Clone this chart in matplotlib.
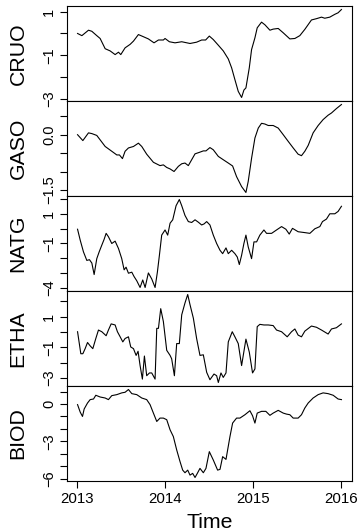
import matplotlib
matplotlib.use("Agg")
import matplotlib.pyplot as plt

plt.rcParams["font.family"] = ["Liberation Sans", "DejaVu Sans"]

# series values (time in decimal years)
cruo_t = [2013.008, 2013.057, 2013.132, 2013.17, 2013.226, 2013.264, 2013.321, 2013.377,
          2013.434, 2013.472, 2013.498, 2013.547, 2013.604, 2013.642, 2013.698, 2013.755,
          2013.811, 2013.875, 2013.925, 2013.981, 2014.0, 2014.049, 2014.113, 2014.189,
          2014.283, 2014.358, 2014.415, 2014.46, 2014.502, 2014.547, 2014.604, 2014.66,
          2014.717, 2014.755, 2014.792, 2014.83, 2014.868, 2014.894, 2014.917, 2014.955,
          2014.981, 2015.019, 2015.045, 2015.094, 2015.132, 2015.189, 2015.226, 2015.283,
          2015.34, 2015.415, 2015.472, 2015.528, 2015.585, 2015.66, 2015.717, 2015.774,
          2015.811, 2015.868, 2015.925, 2015.962, 2016.0]
cruo_v = [0.0, -0.1, 0.15, 0.1, -0.1, -0.23, -0.7, -0.8,
          -0.97, -0.86, -0.97, -0.66, -0.5, -0.35, -0.05, -0.15,
          -0.25, -0.43, -0.3, -0.3, -0.23, -0.38, -0.43, -0.38,
          -0.46, -0.4, -0.3, -0.3, -0.12, -0.28, -0.54, -0.8,
          -1.17, -1.58, -2.12, -2.66, -2.94, -2.6, -2.5, -1.58,
          -0.74, -0.2, 0.26, 0.52, 0.4, 0.15, 0.2, 0.23,
          0.03, -0.25, -0.23, -0.1, 0.19, 0.62, 0.68, 0.75,
          0.7, 0.75, 0.88, 0.95, 1.1]

gaso_t = [2013.008, 2013.068, 2013.132, 2013.170, 2013.226, 2013.264, 2013.321, 2013.396,
          2013.453, 2013.483, 2013.517, 2013.547, 2013.585, 2013.642, 2013.698, 2013.736,
          2013.792, 2013.868, 2013.943, 2013.981, 2014.019, 2014.057, 2014.102, 2014.151,
          2014.189, 2014.226, 2014.264, 2014.302, 2014.340, 2014.389, 2014.434, 2014.464,
          2014.509, 2014.547, 2014.604, 2014.660, 2014.717, 2014.766, 2014.811, 2014.868,
          2014.917, 2014.943, 2014.981, 2015.019, 2015.057, 2015.094, 2015.132, 2015.170,
          2015.226, 2015.283, 2015.340, 2015.396, 2015.453, 2015.509, 2015.547, 2015.585,
          2015.623, 2015.679, 2015.736, 2015.792, 2015.849, 2015.887, 2015.943, 2016.0]
gaso_v = [0.0, -0.16, 0.05, 0.03, -0.02, -0.14, -0.32, -0.45,
          -0.55, -0.55, -0.65, -0.45, -0.36, -0.32, -0.23, -0.32,
          -0.53, -0.75, -0.84, -0.82, -0.89, -0.93, -1.0, -0.86,
          -0.79, -0.77, -0.84, -0.68, -0.52, -0.48, -0.44, -0.44,
          -0.35, -0.41, -0.59, -0.68, -0.77, -0.85, -1.14, -1.41,
          -1.57, -1.27, -0.64, -0.09, 0.18, 0.31, 0.29, 0.25,
          0.25, 0.18, 0.0, -0.18, -0.36, -0.53, -0.57, -0.45,
          -0.29, 0.05, 0.25, 0.41, 0.53, 0.59, 0.71, 0.82]

natg_t = [2013.008, 2013.038, 2013.075, 2013.113, 2013.143, 2013.170, 2013.196, 2013.226,
          2013.253, 2013.283, 2013.309, 2013.332, 2013.358, 2013.396, 2013.434, 2013.472,
          2013.509, 2013.536, 2013.558, 2013.585, 2013.623, 2013.649, 2013.679, 2013.717,
          2013.747, 2013.774, 2013.811, 2013.849, 2013.887, 2013.913, 2013.936, 2013.962,
          2014.0, 2014.030, 2014.057, 2014.087, 2014.125, 2014.162, 2014.189, 2014.226,
          2014.264, 2014.302, 2014.340, 2014.377, 2014.415, 2014.442, 2014.472, 2014.509,
          2014.547, 2014.585, 2014.623, 2014.653, 2014.691, 2014.717, 2014.755, 2014.792,
          2014.819, 2014.842, 2014.868, 2014.894, 2014.917, 2014.943, 2014.981, 2015.008,
          2015.038, 2015.075, 2015.121, 2015.151, 2015.208, 2015.264, 2015.321, 2015.370,
          2015.408, 2015.445, 2015.509, 2015.585, 2015.642, 2015.698, 2015.755, 2015.785,
          2015.830, 2015.868, 2015.925, 2015.962, 2016.0]
natg_v = [-0.03, -0.77, -1.57, -2.15, -2.1, -2.33, -3.11, -2.03,
          -1.57, -1.11, -0.72, -0.31, -0.54, -1.0, -0.84, -1.34,
          -2.03, -2.79, -2.61, -3.02, -2.95, -3.25, -3.53, -3.99,
          -3.48, -3.99, -3.0, -3.41, -3.99, -2.95, -1.8, -0.43,
          -0.08, -0.43, 0.38, 0.61, 1.57, 1.99, 1.57, 0.91,
          0.49, 0.43, 0.61, 0.45, 0.26, 0.33, 0.49, 0.26,
          -0.43, -1.0, -1.46, -1.69, -1.3, -1.69, -1.46, -1.69,
          -1.92, -2.43, -1.8, -1.0, -0.43, -1.23, -2.03, -0.89,
          -0.89, -0.43, -0.08, -0.31, -0.31, -0.08, 0.15, -0.03,
          -0.36, 0.03, -0.2, -0.26, -0.31, 0.0, 0.15, 0.49,
          0.66, 1.02, 1.02, 1.18, 1.53]

etha_t = [2013.008, 2013.045, 2013.068, 2013.094, 2013.121, 2013.151, 2013.181, 2013.215,
          2013.245, 2013.283, 2013.332, 2013.358, 2013.389, 2013.434, 2013.460, 2013.491,
          2013.521, 2013.547, 2013.585, 2013.611, 2013.642, 2013.672, 2013.694, 2013.717,
          2013.743, 2013.766, 2013.792, 2013.823, 2013.849, 2013.887, 2013.906, 2013.925,
          2013.951, 2013.981, 2014.019, 2014.057, 2014.075, 2014.106, 2014.132, 2014.162,
          2014.189, 2014.226, 2014.257, 2014.283, 2014.321, 2014.358, 2014.396, 2014.434,
          2014.472, 2014.509, 2014.555, 2014.585, 2014.604, 2014.634, 2014.660, 2014.691,
          2014.717, 2014.762, 2014.792, 2014.830, 2014.868, 2014.917, 2014.955, 2014.992,
          2015.019, 2015.045, 2015.075, 2015.121, 2015.170, 2015.226, 2015.264, 2015.321,
          2015.385, 2015.434, 2015.472, 2015.509, 2015.547, 2015.585, 2015.660, 2015.717,
          2015.774, 2015.849, 2015.887, 2015.943, 2016.0]
etha_v = [0.01, -1.42, -1.42, -1.09, -0.69, -0.91, -1.09, -0.43,
          0.12, 0.01, -0.25, 0.12, 0.52, 0.45, 0.01, -0.32,
          -0.65, -0.43, -0.32, -0.98, -1.09, -1.53, -1.26, -2.19,
          -3.07, -1.57, -2.85, -2.67, -2.67, -3.07, 0.23, 0.23,
          1.51, 0.67, -1.2, -1.53, -1.75, -2.85, -0.76, -0.76,
          1.11, 1.88, 2.43, 1.77, 0.89, -0.43, -1.53, -1.49,
          -2.63, -3.11, -2.74, -2.85, -3.29, -2.67, -2.96, -2.67,
          -0.65, 0.01, -0.32, -0.76, -2.19, -0.47, -1.31, -2.67,
          -2.41, 0.34, 0.49, 0.45, 0.45, 0.41, 0.12, 0.01,
          -0.32, 0.01, 0.19, -0.21, -0.32, 0.05, 0.38, 0.3,
          0.12, -0.14, 0.19, 0.27, 0.52]

biod_t = [2013.008, 2013.038, 2013.064, 2013.083, 2013.121, 2013.151, 2013.189, 2013.215,
          2013.264, 2013.321, 2013.358, 2013.396, 2013.453, 2013.509, 2013.547, 2013.585,
          2013.623, 2013.679, 2013.736, 2013.792, 2013.830, 2013.868, 2013.906, 2013.943,
          2013.981, 2014.019, 2014.057, 2014.094, 2014.132, 2014.170, 2014.200, 2014.226,
          2014.257, 2014.283, 2014.313, 2014.340, 2014.366, 2014.396, 2014.434, 2014.464,
          2014.502, 2014.547, 2014.596, 2014.623, 2014.653, 2014.691, 2014.736, 2014.766,
          2014.811, 2014.849, 2014.906, 2014.962, 2014.992, 2015.019, 2015.045, 2015.094,
          2015.143, 2015.189, 2015.226, 2015.283, 2015.340, 2015.377, 2015.415, 2015.453,
          2015.509, 2015.547, 2015.585, 2015.623, 2015.679, 2015.736, 2015.792, 2015.849,
          2015.906, 2015.962, 2016.0]
biod_v = [-0.05, -0.65, -1.0, -0.4, 0.08, 0.35, 0.4, 0.7,
          0.56, 0.48, 0.35, 0.67, 0.75, 0.89, 0.94, 1.16,
          0.83, 0.75, 0.48, 0.35, -0.05, -0.73, -1.4, -1.13,
          -1.13, -1.26, -2.07, -2.61, -3.68, -4.62, -5.3, -5.51,
          -5.3, -5.7, -5.56, -5.89, -5.56, -5.16, -5.51, -5.16,
          -3.82, -4.49, -5.3, -5.24, -4.22, -4.44, -2.61, -1.53,
          -1.13, -1.13, -0.86, -0.54, -0.94, -1.53, -0.73, -0.59,
          -0.59, -0.91, -0.73, -0.51, -0.73, -0.81, -0.86, -1.13,
          -1.13, -0.86, -0.32, 0.08, 0.48, 0.75, 0.89, 0.83,
          0.7, 0.4, 0.35]

names = ["CRUO", "GASO", "NATG", "ETHA", "BIOD"]
times = [cruo_t, gaso_t, natg_t, etha_t, biod_t]
values = [cruo_v, gaso_v, natg_v, etha_v, biod_v]
yticks = [[1, 0, -1, -2, -3],
          [0.5, 0.0, -0.5, -1.0, -1.5],
          [2, 1, 0, -1, -2, -3, -4],
          [2, 1, 0, -1, -2, -3],
          [1, 0, -1, -2, -3, -4, -5, -6]]
ylabels = [{1: "1", -1: "\u22121", -3: "\u22123"},
           {0.0: "0.0", -1.5: "\u22121.5"},
           {1: "1", -1: "\u22121", -4: "\u22124"},
           {1: "1", -1: "\u22121", -3: "\u22123"},
           {0: "0", -3: "\u22123", -6: "\u22126"}]
xticks = [2013, 2014, 2015, 2016]

W, H = 359, 531
fig = plt.figure(figsize=(W / 100, H / 100), dpi=100)
left, right, top, ph = 67, 352, 6, 95

axes = []
for i, name in enumerate(names):
    y0 = top + i * ph
    ax = fig.add_axes([left / W, 1 - (y0 + ph) / H, (right - left) / W, ph / H],
                      sharex=axes[0] if axes else None)
    axes.append(ax)
    ax.plot(times[i], values[i], color="black", lw=0.8)
    ax.margins(x=0.04, y=0.04)
    ax.set_yticks(yticks[i])
    ax.set_yticklabels([ylabels[i].get(v, "") for v in yticks[i]])
    ax.tick_params(axis="y", direction="out", length=5, width=0.8, pad=3,
                   labelsize=10.5, labelrotation=90)
    for lab in ax.get_yticklabels():
        lab.set_va("center")
    for s in ax.spines.values():
        s.set_linewidth(0.8)
    ax.text(-0.172, 0.5, name, rotation=90, ha="center", va="center",
            fontsize=15.3, transform=ax.transAxes)
    if i < len(names) - 1:
        ax.tick_params(axis="x", bottom=False, labelbottom=False)

axes[-1].set_xticks(xticks)
axes[-1].set_xticklabels([str(x) for x in xticks])
axes[-1].tick_params(axis="x", direction="out", length=5, width=0.8, pad=3, labelsize=10.8)
fig.text((77 + 342) / 2 / W, 1 - 523 / H, "Time", ha="center", va="center", fontsize=15.3)

fig.savefig("out.png", dpi=100)
